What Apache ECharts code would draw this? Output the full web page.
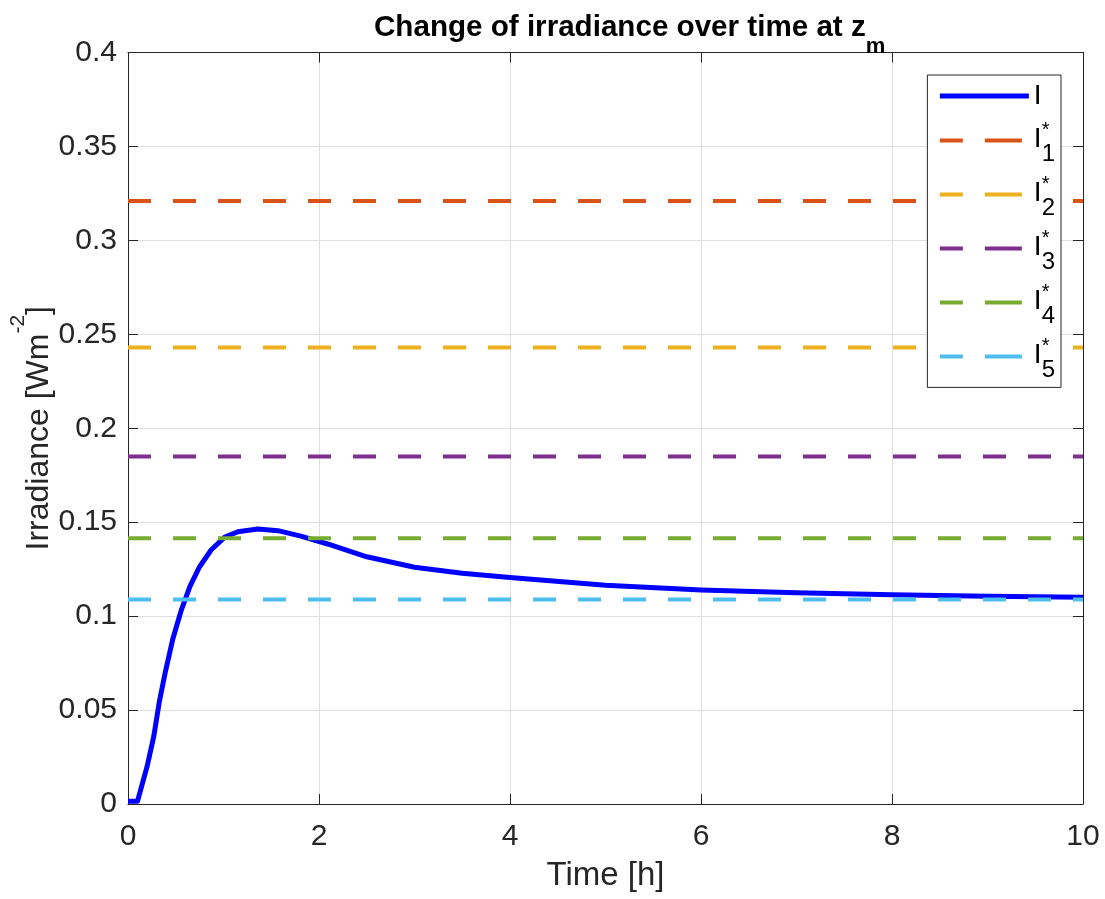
<!DOCTYPE html>
<html><head><meta charset="utf-8">
<script src="https://cdn.jsdelivr.net/npm/echarts@6/dist/echarts.min.js"></script>
<style>html,body{margin:0;padding:0;background:#fff}#c{width:1105px;height:899px}</style>
</head><body><div id="c"></div>
<script>
// ---- data ----
const timeH = [0, 0.1, 0.2, 0.27, 0.33, 0.39, 0.47, 0.56, 0.65, 0.75, 0.87, 1.01, 1.15, 1.36, 1.57, 1.81, 2.09, 2.5, 3.0, 3.5, 4.0, 5.0, 6.0, 7.0, 8.0, 9.0, 10.0];
const irradiance = [0.0015, 0.0015, 0.020, 0.036, 0.055, 0.070, 0.088, 0.1035, 0.116, 0.1263, 0.1352, 0.1419, 0.1449, 0.1464, 0.1455, 0.1426, 0.1384, 0.1316, 0.126, 0.1228, 0.1206, 0.1164, 0.1139, 0.1125, 0.1114, 0.1106, 0.110];
const thresholdNames = ['I*1', 'I*2', 'I*3', 'I*4', 'I*5'];
const thresholdValues = [0.321, 0.243, 0.185, 0.1415, 0.1088];
const thresholdColors = ['#D95319', '#EDB120', '#7E2F8E', '#77AC30', '#4DBEEE'];
const xRange = [0, 10], xStep = 2;
const yRange = [0, 0.4], yStep = 0.05;

const FONT = '"Liberation Sans", Arial, Helvetica, sans-serif';
const TXT = '#262626';
const chart = echarts.init(document.getElementById('c'));

const series = [{
  name: 'I', type: 'line', data: timeH.map((t, i) => [t, irradiance[i]]),
  showSymbol: false, symbol: 'none', smooth: false, clip: false,
  lineStyle: { color: '#0000FF', width: 5, join: 'round' }, itemStyle: { color: '#0000FF' },
  xAxisIndex: 0, yAxisIndex: 0, z: 2
}];
thresholdNames.forEach((n, k) => series.push({
  name: n, type: 'line', data: [[xRange[0], thresholdValues[k]], [xRange[1], thresholdValues[k]]],
  showSymbol: false, symbol: 'none',
  lineStyle: { color: thresholdColors[k], width: 4, type: [23, 22] }, itemStyle: { color: thresholdColors[k] },
  xAxisIndex: 0, yAxisIndex: 0, z: 3
}));

function axisBase() {
  return {
    axisLine: { show: true, onZero: false, lineStyle: { color: TXT, width: 1 } },
    axisTick: { show: true, inside: true, length: 10, lineStyle: { color: TXT, width: 1 } },
    splitLine: { show: false }
  };
}
const hiddenIcon = { opacity: 0, color: 'rgba(0,0,0,0)', borderWidth: 0 };

const option = {
  backgroundColor: '#fff',
  animation: false,
  title: {
    text: '{a|Change of irradiance over time at z}{b|m}',
    left: 374, top: -1.9, padding: 0,
    textStyle: { rich: {
      a: { fontFamily: FONT, fontWeight: 'bold', fontSize: 29.6, lineHeight: 60, color: '#000' },
      b: { fontFamily: FONT, fontWeight: 'bold', fontSize: 22, lineHeight: 4, verticalAlign: 'bottom', color: '#000' }
    } }
  },
  grid: { left: 128, right: 22, top: 52.5, bottom: 95, containLabel: false, outerBoundsMode: 'none' },
  legend: {
    orient: 'vertical', right: 44, top: 75,
    padding: [4.9, 6, 5.5, 10], itemGap: 3,
    itemWidth: 89, itemHeight: 14,
    backgroundColor: '#fff', borderColor: TXT, borderWidth: 1,
    itemStyle: hiddenIcon,
    data: [{ name: 'I', lineStyle: { width: 5, type: 'solid' }, itemStyle: hiddenIcon }].concat(
      thresholdNames.map(n => ({ name: n, lineStyle: { width: 4, type: [23, 22, 37, 60] }, itemStyle: hiddenIcon }))),
    formatter: name => name === 'I' ? '{i0|I}' : '{i|I}{sup|*}{sub|' + name.slice(2) + '}',
    textStyle: { color: '#000', fontFamily: FONT, rich: {
      i0: { fontFamily: FONT, fontSize: 28, lineHeight: 32, padding: [2, 0, 2, 0], color: '#000' },
      i: { fontFamily: FONT, fontSize: 28, lineHeight: 51, padding: [0, 0, 3, 0], color: '#000' },
      sup: { fontFamily: FONT, fontSize: 20, lineHeight: 21, verticalAlign: 'top', padding: [6, 0, 0, 0], width: 0, color: '#000' },
      sub: { fontFamily: FONT, fontSize: 24, lineHeight: 12, verticalAlign: 'bottom', color: '#000' }
    } }
  },
  xAxis: [
    Object.assign(axisBase(), {
      type: 'value', min: xRange[0], max: xRange[1], interval: xStep, position: 'bottom',
      name: 'Time [h]', nameLocation: 'middle', nameGap: 55.4, nameMoveOverlap: false,
      nameTextStyle: { fontFamily: FONT, fontSize: 33, color: TXT },
      axisLabel: { show: true, margin: 18, fontFamily: FONT, fontSize: 30, color: TXT },
      splitLine: { show: true, lineStyle: { color: '#dfdfdf', width: 1 } }
    }),
    Object.assign(axisBase(), {
      type: 'value', min: xRange[0], max: xRange[1], interval: xStep, position: 'top',
      axisLabel: { show: false }
    })
  ],
  yAxis: [
    Object.assign(axisBase(), {
      type: 'value', min: yRange[0], max: yRange[1], interval: yStep, position: 'left',
      name: '{a|Irradiance [Wm}{s|-2}{a|]}', nameLocation: 'middle', nameGap: 57.6, nameMoveOverlap: false,
      nameTextStyle: { rich: {
        a: { fontFamily: FONT, fontSize: 32, lineHeight: 63, color: TXT },
        s: { fontFamily: FONT, fontSize: 21, lineHeight: 7, verticalAlign: 'top', color: TXT }
      } },
      axisLabel: { show: true, margin: 11, fontFamily: FONT, fontSize: 30, color: TXT },
      splitLine: { show: true, lineStyle: { color: '#dfdfdf', width: 1 } }
    }),
    Object.assign(axisBase(), {
      type: 'value', min: yRange[0], max: yRange[1], interval: yStep, position: 'right',
      axisLabel: { show: false }
    })
  ],
  series: series
};
chart.setOption(option);
</script>
</body></html>
